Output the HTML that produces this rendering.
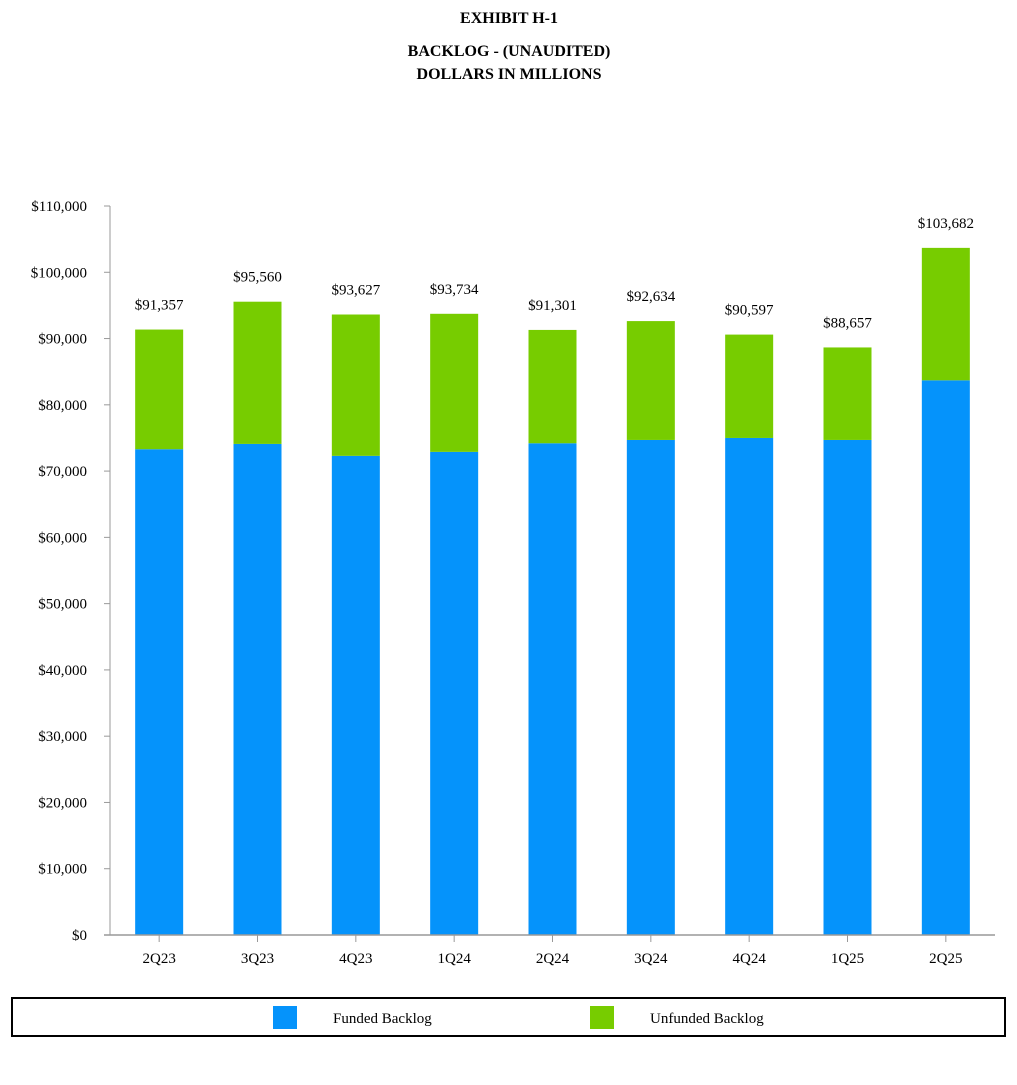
<!DOCTYPE html>
<html><head><meta charset="utf-8">
<style>
body{margin:0;background:#fff;font-family:"Liberation Serif",serif;}
svg text{font-family:"Liberation Serif",serif;}
</style></head>
<body>
<svg width="1017" height="1080" id="chart">
<text x="509" y="23" text-anchor="middle" font-size="16" font-weight="bold">EXHIBIT H-1</text>
<text x="509" y="56" text-anchor="middle" font-size="16" font-weight="bold">BACKLOG - (UNAUDITED)</text>
<text x="509" y="79" text-anchor="middle" font-size="16" font-weight="bold">DOLLARS IN MILLIONS</text>
<g id="plot"></g>
<rect x="12" y="998" width="993" height="38" fill="none" stroke="#000" stroke-width="2"/>
<rect x="273" y="1006" width="24" height="23" fill="#0593fb"/>
<text x="333" y="1023" font-size="15">Funded Backlog</text>
<rect x="590" y="1006" width="24" height="23" fill="#77cc00"/>
<text x="650" y="1023" font-size="15">Unfunded Backlog</text>
</svg>
<script>
const categories=["2Q23","3Q23","4Q23","1Q24","2Q24","3Q24","4Q24","1Q25","2Q25"];
const totals=[91357,95560,93627,93734,91301,92634,90597,88657,103682];
const funded=[73300,74100,72300,72900,74200,74700,75000,74700,83700];
const totalLabels=["$91,357","$95,560","$93,627","$93,734","$91,301","$92,634","$90,597","$88,657","$103,682"];
const yTicks=[0,10000,20000,30000,40000,50000,60000,70000,80000,90000,100000,110000];

const NS="http://www.w3.org/2000/svg";
const g=document.getElementById('plot');
const x0=110,x1=995,y0=935,y1=206,yMax=110000;
const y=v=>y0-(v/yMax)*(y0-y1);
const band=(x1-x0)/categories.length;
const xc=i=>x0+band*(i+0.5);
const bw=48;
function mk(tag,attrs){const e=document.createElementNS(NS,tag);for(const k in attrs)e.setAttribute(k,attrs[k]);g.appendChild(e);return e;}
yTicks.forEach(t=>{
  const tx=mk('text',{x:87,y:y(t)+5,'text-anchor':'end','font-size':15});
  tx.textContent='$'+t.toLocaleString('en-US');
  
  
  const tk=mk('line',{x1:104,x2:110,y1:y(t),y2:y(t),stroke:'#999'});
  
  
});
categories.forEach((c,i)=>{
  const f=mk('rect',{x:xc(i)-bw/2,y:y(funded[i]),width:bw,height:y0-y(funded[i]),fill:'#0593fb'});
  
  
  const u=mk('rect',{x:xc(i)-bw/2,y:y(totals[i]),width:bw,height:y(funded[i])-y(totals[i]),fill:'#77cc00'});
  
  
  const l=mk('text',{x:xc(i),y:y(totals[i])-20,'text-anchor':'middle','font-size':15});
  l.textContent=totalLabels[i];
  
  
  const tk=mk('line',{x1:xc(i),x2:xc(i),y1:y0,y2:y0+7,stroke:'#999'});
  
  
  const xl=mk('text',{x:xc(i),y:y0+28,'text-anchor':'middle','font-size':15});
  xl.textContent=c;
  
  
});
const ya=mk('line',{x1:x0,x2:x0,y1:y1,y2:y0,stroke:'#999'});


const xa=mk('line',{x1:x0-6,x2:x1,y1:y0,y2:y0,stroke:'#999','stroke-width':1.5});


</script>
</body></html>
